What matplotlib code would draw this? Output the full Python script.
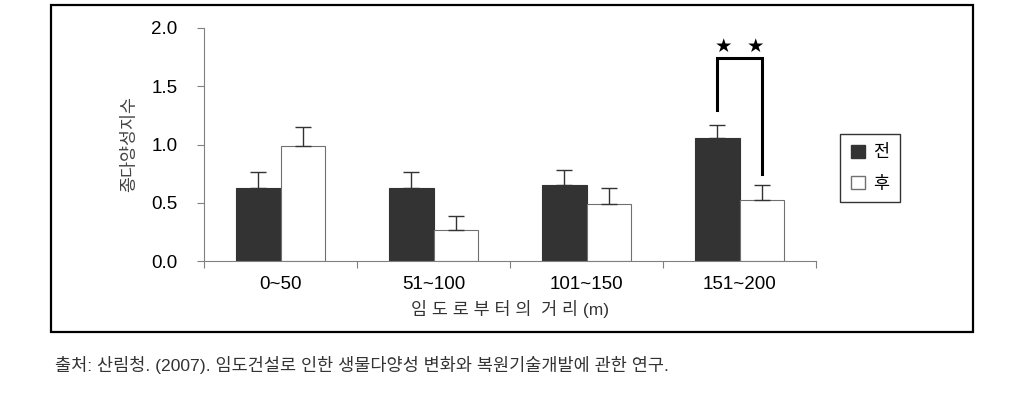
import numpy as np
import matplotlib.pyplot as plt
from matplotlib.patches import Patch, Rectangle

plt.rcParams['font.family'] = ['Liberation Sans', 'Noto Sans CJK KR']

categories = ['0~50', '51~100', '101~150', '151~200']
before = [0.63, 0.63, 0.65, 1.06]
before_err = [0.13, 0.13, 0.13, 0.11]
after = [0.99, 0.27, 0.49, 0.52]
after_err = [0.16, 0.12, 0.14, 0.13]
series_names = ['전', '후']

W, H = 1017, 403
fig = plt.figure(figsize=(W / 100, H / 100), dpi=100)

# outer frame
fig.patches.append(Rectangle((51 / W, 1 - 332 / H), (973 - 51) / W, (332 - 5) / H,
                             transform=fig.transFigure, fill=False,
                             edgecolor='black', linewidth=1.6))

ax = fig.add_axes([204 / W, 1 - 261 / H, (816 - 204) / W, (261 - 28) / H])
x = np.arange(len(categories))
bw = 0.29

ax.bar(x - bw / 2, before, bw, color='#333333', edgecolor='#333333', linewidth=0.8)
ax.bar(x + bw / 2, after, bw, color='white', edgecolor='#707070', linewidth=0.8)
ax.errorbar(x - bw / 2, before, yerr=[np.zeros(4), before_err], fmt='none',
            ecolor='#333333', elinewidth=1, capsize=6, capthick=1)
ax.errorbar(x + bw / 2, after, yerr=[np.zeros(4), after_err], fmt='none',
            ecolor='#333333', elinewidth=1, capsize=6, capthick=1)

# significance bracket
xl, xr = 3 - bw / 2, 3 + bw / 2
ax.plot([xl, xl, xr, xr], [1.30, 1.74, 1.74, 0.75], color='black', linewidth=2.2,
        solid_joinstyle='miter', clip_on=False)
ax.text(xl + 0.04, 1.84, '★', ha='center', va='center', fontsize=14,
        family=['DejaVu Sans'])
ax.text(xr - 0.04, 1.84, '★', ha='center', va='center', fontsize=14,
        family=['DejaVu Sans'])

ax.set_xlim(-0.5, 3.5)
ax.set_ylim(0, 2.0)
ax.set_yticks([0, 0.5, 1.0, 1.5, 2.0])
ax.set_yticklabels(['0.0', '0.5', '1.0', '1.5', '2.0'], fontsize=13.5)
ax.set_xticks(np.arange(-0.5, 4, 1))
ax.set_xticklabels([])
ax.set_xticks(x, minor=True)
ax.set_xticklabels(categories, minor=True, fontsize=13.5)
ax.tick_params(axis='x', which='minor', length=0, pad=11)
ax.tick_params(axis='x', which='major', length=5, color='#808080')
ax.tick_params(axis='y', length=5, color='#808080', pad=14)

for s in ['top', 'right']:
    ax.spines[s].set_visible(False)
for s in ['left', 'bottom']:
    ax.spines[s].set_color('#808080')

ax.set_ylabel('종다양성지수', fontsize=12.5, color='#444444', labelpad=10)
ax.set_xlabel('임 도 로 부 터 의  거 리 (m)', fontsize=12.5, color='#333333', labelpad=5)

ax.legend(handles=[Patch(facecolor='#333333', edgecolor='#333333'),
                   Patch(facecolor='white', edgecolor='#707070')],
          labels=series_names, loc='center', bbox_to_anchor=(870 / W, 1 - 168 / H),
          bbox_transform=fig.transFigure, frameon=True, fancybox=False,
          edgecolor='black', fontsize=12.5, handlelength=0.8, handleheight=0.8,
          handletextpad=0.5, labelspacing=0.9, borderpad=0.6)

fig.text(55 / W, 1 - 365 / H, '출처: 산림청. (2007). 임도건설로 인한 생물다양성 변화와 복원기술개발에 관한 연구.',
         fontsize=12.6, color='#333333', va='center', ha='left')

fig.savefig('out.png', dpi=100)
